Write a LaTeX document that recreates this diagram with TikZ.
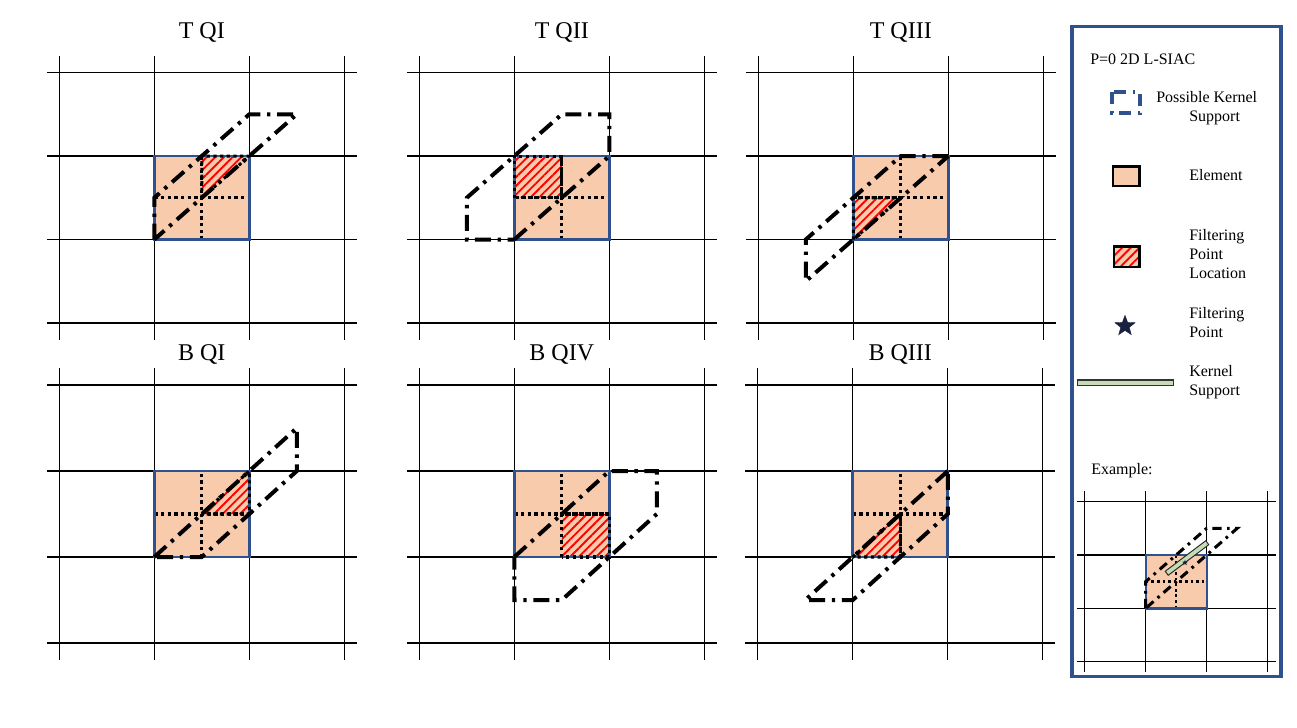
\documentclass[tikz,border=0pt]{standalone}
\usepackage{fontspec}
\setmainfont{Liberation Serif}
\usetikzlibrary{patterns.meta,shapes.geometric}
\definecolor{peach}{HTML}{F8CBAD}
\definecolor{elblue}{HTML}{2F528F}
\definecolor{ksgreen}{HTML}{C5DCB5}
\definecolor{starnavy}{HTML}{18213F}
\tikzset{
  gridline/.style={black, line width=0.9pt},
  elemborder/.style={draw=elblue, line width=2pt},
  hatch/.style={pattern={Lines[angle=45,distance=4.6pt,line width=1.4pt]}, pattern color=red},
  dotline/.style={black, line width=2.3pt, dash pattern=on 2.4pt off 2.6pt},
  kernel/.style={black, line width=3pt, dash pattern=on 12pt off 5pt on 2.5pt off 5pt, line join=miter},
  kernelsmall/.style={black, line width=2.3pt, dash pattern=on 7pt off 4pt on 2pt off 4pt, line join=miter},
  paneltitle/.style={font=\fontsize{18}{20}\selectfont, anchor=base, inner sep=0pt},
  legtext/.style={font=\fontsize{12}{14}\selectfont, anchor=base west, inner sep=0pt},
}
\newcommand{\drawpanelgrid}{%
  \foreach \i in {-1,0,1,2} {%
    \draw[gridline] (\i,-1.2) -- (\i,2.2);
    \draw[gridline] (-1.13,\i) -- (2.13,\i);
  }%
}
\newcommand{\drawelement}[1]{%
  \fill[peach] (0,0) rectangle (1,1);
  \fill[hatch] #1;
  \draw[dotline] (0.5,0) -- (0.5,1) (0,0.5) -- (1,0.5);
  \draw[elemborder] (0,0) rectangle (1,1);
  \draw[dotline] #1;
}
\begin{document}
\begin{tikzpicture}[x=0.75pt,y=-0.75pt]
\useasboundingbox (0,0) rectangle (1297,728);
\fill[white] (0,0) rectangle (1297,728);

% ---------- titles
\node[paneltitle] (tqi)   at (201.8,38.3) {T QI};
\node[paneltitle] (tqii)  at (561.8,38.3) {T QII};
\node[paneltitle] (tqiii) at (900.8,38.3) {T QIII};
\node[paneltitle] (bqi)   at (201.8,360) {B QI};
\node[paneltitle] (bqiv)  at (561.8,360) {B QIV};
\node[paneltitle] (bqiii) at (900.2,360) {B QIII};

% ---------- T QI
\begin{scope}[shift={(154.3,239.5)},x=71.25pt,y=62.6pt]
  \drawpanelgrid
  \drawelement{(0.5,0.5) -- (0.5,1) -- (1,1) -- cycle}
  \draw[kernel] (0,0) -- (0,0.5) -- (1,1.5) -- (1.5,1.5) -- cycle;
\end{scope}

% ---------- T QII
\begin{scope}[shift={(514.3,239.5)},x=71.25pt,y=62.6pt]
  \drawpanelgrid
  \drawelement{(0,0.5) rectangle (0.5,1)}
  \draw[kernel] (0,0) -- (1,1) -- (1,1.5) -- (0.5,1.5) -- (-0.5,0.5) -- (-0.5,0) -- cycle;
\end{scope}

% ---------- T QIII
\begin{scope}[shift={(853.3,239.5)},x=71.25pt,y=62.6pt]
  \drawpanelgrid
  \drawelement{(0,0) -- (0,0.5) -- (0.5,0.5) -- cycle}
  \draw[kernel] (1,1) -- (0.5,1) -- (-0.5,0) -- (-0.5,-0.5) -- cycle;
\end{scope}

% ---------- B QI
\begin{scope}[shift={(154.3,557)},x=71.25pt,y=64.5pt]
  \drawpanelgrid
  \drawelement{(0.5,0.5) -- (1,1) -- (1,0.5) -- cycle}
  \draw[kernel] (0,0) -- (1.5,1.5) -- (1.5,1) -- (0.5,0) -- cycle;
\end{scope}

% ---------- B QIV
\begin{scope}[shift={(514.3,557)},x=71.25pt,y=64.5pt]
  \drawpanelgrid
  \drawelement{(0.5,0) rectangle (1,0.5)}
  \draw[kernel] (0,0) -- (1,1) -- (1.5,1) -- (1.5,0.5) -- (0.5,-0.5) -- (0,-0.5) -- cycle;
\end{scope}

% ---------- B QIII
\begin{scope}[shift={(852.8,557)},x=71.25pt,y=64.5pt]
  \drawpanelgrid
  \drawelement{(0,0) -- (0.5,0.5) -- (0.5,0) -- cycle}
  \draw[kernel] (1,1) -- (-0.5,-0.5) -- (0,-0.5) -- (1,0.5) -- cycle;
\end{scope}

% ---------- legend box
\draw[elblue, line width=2.3pt] (1072,26.5) rectangle (1281,676.5);
\node[legtext] (legtitle) at (1090,64) {P=0 2D L-SIAC};

% possible kernel support icon
\draw[elblue, line width=2.6pt, dash pattern=on 9pt off 5pt on 2pt off 5pt] (1112,92) rectangle (1140,113);
\node[legtext] (pks1) at (1156,102.7) {Possible Kernel};
\node[legtext] (pks2) at (1189,121.7) {Support};

% element icon
\draw[black, line width=2pt, fill=peach] (1113,166.3) rectangle (1139.7,186);
\node[legtext] (elemtxt) at (1189,180) {Element};

% filtering point location icon
\fill[peach] (1114,246.3) rectangle (1139.3,267);
\fill[hatch] (1114,246.3) rectangle (1139.3,267);
\draw[black, line width=2pt] (1114,246.3) rectangle (1139.3,267);
\node[legtext] (fpl1) at (1189,240) {Filtering};
\node[legtext] (fpl2) at (1189,259.3) {Point};
\node[legtext] (fpl3) at (1189,278.3) {Location};

% filtering point icon
\node[star, star points=5, star point ratio=2.4, fill=starnavy, draw=starnavy, line width=0.3pt, minimum size=16pt, inner sep=0pt] (staricon) at (1125,326) {};
\node[legtext] (fp1) at (1189,318.3) {Filtering};
\node[legtext] (fp2) at (1189,337) {Point};

% kernel support icon
\draw[black!80, line width=0.8pt, fill=ksgreen] (1077.3,380) rectangle (1173.3,385.5);
\node[legtext] (ks1) at (1189,376.7) {Kernel};
\node[legtext] (ks2) at (1189,395.5) {Support};

% ---------- example
\node[legtext] (extxt) at (1091,474.5) {Example:};
\begin{scope}[shift={(1145.7,608.3)},x=45.75pt,y=40pt,
    dotline/.style={black, line width=1.9pt, dash pattern=on 2pt off 2.2pt},
    elemborder/.style={draw=elblue, line width=1.8pt}]
  \drawpanelgrid
  \fill[peach] (0,0) rectangle (1,1);
  \draw[dotline] (0.5,0) -- (0.5,1) (0,0.5) -- (1,0.5);
  \draw[elemborder] (0,0) rectangle (1,1);
  \draw[kernelsmall] (0,0) -- (0,0.5) -- (1,1.5) -- (1.5,1.5) -- cycle;
\end{scope}
\draw[black!85, line width=0.7pt, fill=ksgreen] (1165.2,571.3) -- (1168.2,575.3) -- (1208.8,544.7) -- (1205.8,540.7) -- cycle;
\node[star, star points=5, star point ratio=2.4, fill=starnavy, minimum size=4.5pt, inner sep=0pt] (exstar) at (1185,562.7) {};
\end{tikzpicture}
\end{document}
